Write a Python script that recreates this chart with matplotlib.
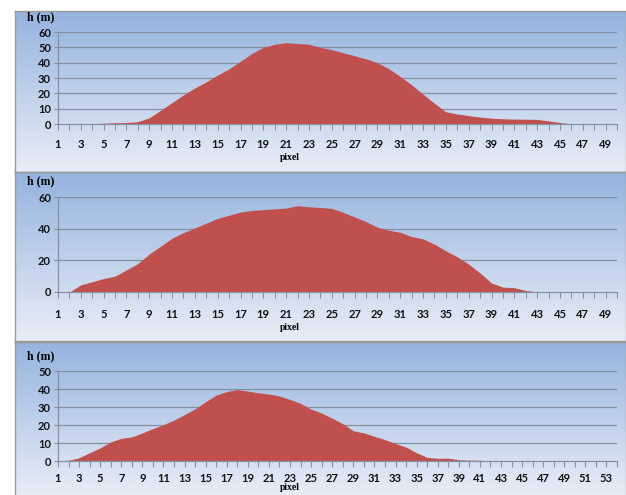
import numpy as np
import matplotlib
matplotlib.use("Agg")
import matplotlib.pyplot as plt
from matplotlib.colors import LinearSegmentedColormap

# height profiles (m) per pixel
h1 = [0, 0, 0, 0.2, 0.5, 0.8, 1, 1.5, 4, 9,
      14, 19, 23.5, 27.5, 32, 36, 41, 46, 50, 52,
      53, 52.5, 52, 50, 48.5, 46.5, 44.5, 42.5, 40, 36,
      31, 25.5, 19.5, 13.5, 8, 6.5, 5.5, 4.5, 3.8, 3.4,
      3.2, 3.1, 3, 2, 1, 0, 0, 0, 0, 0]
h2 = [0, 0, 4.5, 6.5, 8.5, 10, 14, 18, 24, 29,
      34, 37.5, 40.5, 43.5, 46.5, 48.5, 50.5, 51.5, 52, 52.5,
      53, 54.5, 53.8, 53.4, 52.8, 50.3, 47.4, 44.5, 40.9, 39,
      37.7, 35, 33.5, 30.2, 26, 22.2, 17.6, 12, 5.7, 3.1,
      2.7, 1, 0, 0, 0, 0, 0, 0, 0, 0]
h3 = [0, 0.4, 1.8, 4.6, 7.3, 10.6, 12.6, 13.4, 15.6, 18,
      20.2, 22.7, 25.8, 29, 33, 36.6, 38.6, 39.7, 38.8, 37.9,
      37.2, 36.1, 34.2, 32, 28.8, 26.6, 23.8, 20.7, 16.8, 15.6,
      13.7, 11.9, 9.7, 7.7, 4.6, 2, 1.5, 1.6, 0.7, 0.5,
      0.4, 0.2, 0, 0, 0, 0, 0, 0, 0, 0, 0, 0, 0, 0]
yticks1 = [0, 10, 20, 30, 40, 50, 60]
yticks2 = [0, 20, 40, 60]
yticks3 = [0, 10, 20, 30, 40, 50]

W, H = 626, 495
FILL = "#c0504d"
GRID = "#8591a3"
grad = LinearSegmentedColormap.from_list("bg", ["#95b3de", "#e8eef8"])


def fx(px):
    return px / W


def fy(py):
    return 1 - py / H


fig = plt.figure(figsize=(W / 100, H / 100), dpi=100)

# (values, yticks, panel top, panel bottom, top grid y, zero y, tick label y, "pixel" y, "h (m)" y)
panels = [
    (h1, yticks1, 11, 172, 32, 124, 140, 157, 17),
    (h2, yticks2, 172, 341, 197, 292, 310, 328, 181),
    (h3, yticks3, 342, 497, 371, 461, 474, 488, 356),
]

for vals, yt, top, bot, ytop, y0, ylab, ypix, yh in panels:
    # gradient background
    bg = fig.add_axes([fx(15), fy(bot), fx(611), (bot - top) / H])
    bg.imshow(np.linspace(0, 1, 256).reshape(-1, 1), aspect="auto",
              cmap=grad, extent=[0, 1, 0, 1])
    bg.set_xticks([])
    bg.set_yticks([])
    for s in bg.spines.values():
        s.set_color("#9a9a9a")
        s.set_linewidth(1)

    n = len(vals)
    x = np.arange(1, n + 1)
    ax = fig.add_axes([fx(58), fy(y0), fx(617 - 58), (y0 - ytop) / H])
    ax.patch.set_alpha(0)
    ax.fill_between(x, 0, vals, color=FILL, linewidth=0, zorder=2)
    ax.set_xlim(1, n)
    ax.set_ylim(0, yt[-1])
    ax.set_yticks(yt)
    ax.set_xticks(x)
    ax.set_xticklabels([str(i) if i % 2 == 1 else "" for i in x])
    for g in yt[1:]:
        ax.axhline(g, color=GRID, lw=0.9, zorder=1)
    for sp in ["top", "right"]:
        ax.spines[sp].set_visible(False)
    for sp in ["left", "bottom"]:
        ax.spines[sp].set_color(GRID)
        ax.spines[sp].set_linewidth(0.9)
    ax.tick_params(axis="x", direction="out", length=4, color=GRID,
                   pad=(ylab - y0) * 0.72 - 5)
    ax.tick_params(axis="y", direction="out", length=3, color=GRID, pad=2)
    for lab in ax.get_xticklabels() + ax.get_yticklabels():
        lab.set_fontfamily("Lato")
        lab.set_fontweight("bold")
        lab.set_fontsize(8)
        lab.set_color("#111111")

    fig.text(fx(27), fy(yh), "h (m)", family="Liberation Serif",
             weight="bold", fontsize=8.5, va="center", ha="left")
    fig.text(fx(290), fy(ypix), "pixel", family="Liberation Serif",
             weight="bold", fontsize=7, va="center", ha="center")

fig.savefig("out.png", dpi=100)
